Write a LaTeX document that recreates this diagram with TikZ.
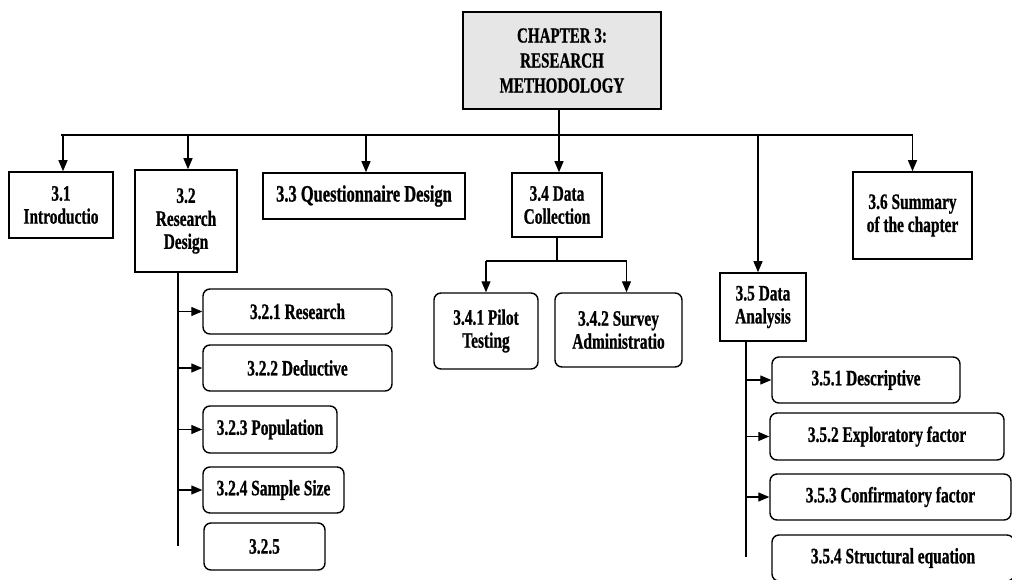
\documentclass[tikz,border=0pt]{standalone}
\usepackage{fontspec}
\setmainfont[FakeStretch=0.7,BoldFeatures={FakeBold=0.8}]{Liberation Serif}
\usepackage{tikz}
\usetikzlibrary{arrows.meta,positioning,calc}
\definecolor{boxgray}{HTML}{E6E6E6}
\tikzset{
  chapter/.style={rectangle,draw=black,line width=1.8pt,fill=boxgray,align=center,font=\fontsize{21.5}{25}\selectfont\bfseries,inner sep=2pt},
  section/.style={rectangle,draw=black,line width=1.6pt,fill=white,align=center,font=\fontsize{22}{23}\selectfont\bfseries,inner sep=2pt},
  subsec/.style={rectangle,rounded corners=7pt,draw=black,line width=1.4pt,fill=white,align=center,font=\fontsize{22}{23}\selectfont\bfseries,inner sep=2pt},
  arrow/.style={-{Triangle[length=11pt,width=9pt]},line width=1.2pt,draw=black},
  line/.style={line width=1.2pt,draw=black}
}

\begin{document}
\begin{tikzpicture}[x=1pt,y=-1pt]
  \useasboundingbox (0,0) rectangle (1012,579);
  \clip (0,0) rectangle (1012,579);
  % chapter and sections
  \node[chapter,minimum width=198pt,minimum height=97pt] (ch) at (562,60.5) {CHAPTER 3:\\RESEARCH\\METHODOLOGY};
  \node[section,minimum width=104pt,minimum height=66pt] (s31) at (61,205) {3.1\\Introductio};
  \node[section,minimum width=102pt,minimum height=102pt] (s32) at (186,221) {3.2\\Research\\Design};
  \node[section,minimum width=202pt,minimum height=46pt,font=\fontsize{23.5}{24}\selectfont\bfseries] (s33) at (364,196) {3.3 Questionnaire Design};
  \node[section,minimum width=90pt,minimum height=64pt] (s34) at (557,205) {3.4 Data\\Collection};
  \node[section,minimum width=86pt,minimum height=68pt] (s35) at (763,307) {3.5 Data\\Analysis};
  \node[section,minimum width=119pt,minimum height=87pt] (s36) at (912.5,215.5) {3.6 Summary\\of the chapter};
  % subsections
  \node[subsec,minimum width=104pt,minimum height=76pt] (s341) at (486,331) {3.4.1 Pilot\\Testing};
  \node[subsec,minimum width=127pt,minimum height=74pt] (s342) at (618.5,330) {3.4.2 Survey\\Administratio};
  \node[subsec,minimum width=189pt,minimum height=45pt] (s321) at (297.5,311.5) {3.2.1 Research};
  \node[subsec,minimum width=189pt,minimum height=46pt] (s322) at (297.5,368) {3.2.2 Deductive};
  \node[subsec,minimum width=134pt,minimum height=47pt] (s323) at (270,429.5) {3.2.3 Population};
  \node[subsec,minimum width=141pt,minimum height=46pt] (s324) at (273.5,490) {3.2.4 Sample Size};
  \node[subsec,minimum width=121pt,minimum height=47pt] (s325) at (264.5,546.5) {3.2.5};
  \node[subsec,minimum width=188pt,minimum height=46pt] (s351) at (866,380) {3.5.1 Descriptive};
  \node[subsec,minimum width=234pt,minimum height=47pt] (s352) at (887,436.5) {3.5.2 Exploratory factor};
  \node[subsec,minimum width=241pt,minimum height=46pt] (s353) at (890.5,497) {3.5.3 Confirmatory factor};
  \node[subsec,minimum width=242pt,minimum height=46pt] (s354) at (893,558) {3.5.4 Structural equation};
  % bus lines
  \coordinate (bus) at (559,135);
  \coordinate (bus34) at (557,261);
  \coordinate (t32) at (178,546);
  \coordinate (t35) at (746,557);
  \draw[line] (ch.south -| bus) -- (bus);
  \draw[line] (s31.north |- bus) -- (s36.north |- bus);
  \draw[arrow] (bus) -- (bus |- s34.north);
  \foreach \n/\dx in {s31/2,s32/2,s33/2,s35/-5,s36/0}
    \draw[arrow] ([xshift=\dx pt]\n.north |- bus) -- ([xshift=\dx pt]\n.north);
  % data collection
  \draw[line] (s34) -- (bus34);
  \draw[line] (s341.north |- bus34) -- ([xshift=8pt]s342.north |- bus34);
  \draw[arrow] (s341.north |- bus34) -- (s341.north);
  \draw[arrow] ([xshift=8pt]s342.north |- bus34) -- ([xshift=8pt]s342.north);
  % research design
  \draw[line] (s32.south -| t32) -- (t32);
  \foreach \n in {s321,s322,s323,s324}
    \draw[arrow] (t32 |- \n.west) -- (\n.west);
  % data analysis
  \draw[line] (s35.south -| t35) -- (t35);
  \foreach \n in {s351,s352,s353}
    \draw[arrow] (t35 |- \n.west) -- (\n.west);
\end{tikzpicture}
\end{document}
